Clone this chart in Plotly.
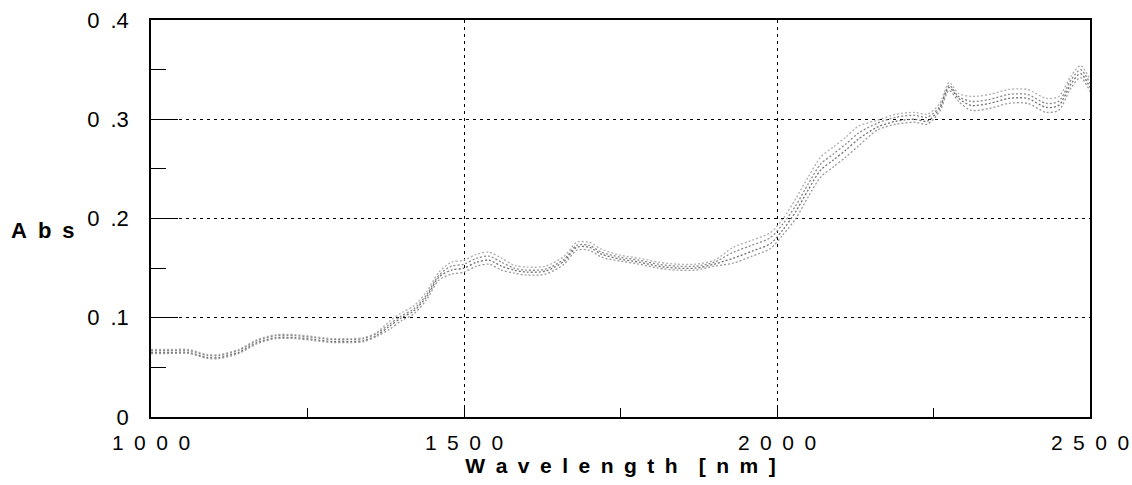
import plotly.graph_objects as go

wavelength = [1000,1030,1060,1090,1110,1140,1170,1200,1230,1260,1290,1320,1340,1360,1380,1400,1420,1440,1460,1480,
              1500,1520,1540,1560,1580,1600,1630,1660,1680,1700,1720,1750,1780,1810,1840,1870,1900,1930,1960,1990,
              2010,2030,2050,2070,2090,2110,2130,2160,2190,2220,2240,2260,2275,2290,2310,2340,2370,2400,2430,2450,
              2470,2485,2500]

abs_a = [0.068,0.068,0.068,0.063,0.063,0.068,0.078,0.083,0.083,0.081,0.079,0.079,0.080,0.085,
         0.096,0.105,0.112,0.126,0.146,
         0.156,0.158,0.164,0.166,0.160,
         0.153,0.151,0.152,
         0.162,0.176,0.176,0.169,
         0.163,0.160,0.156,0.154,0.154,0.158,
         0.171,0.178,0.186,0.200,
         0.220,0.242,0.262,0.272,0.282,0.293,
         0.299,0.305,0.307,0.305,
         0.316,0.337,0.326,
         0.323,0.325,0.330,0.330,0.321,0.323,
         0.344,0.354,0.340]

abs_b = [0.067,0.067,0.067,0.062,0.062,0.067,0.077,0.082,0.082,0.080,0.078,0.078,0.079,0.084,
         0.093,0.102,0.109,0.123,0.143,
         0.152,0.154,0.160,0.162,0.156,
         0.150,0.148,0.149,
         0.159,0.173,0.173,0.166,
         0.161,0.158,0.154,0.152,0.152,0.156,
         0.166,0.173,0.181,0.195,
         0.213,0.235,0.255,0.265,0.275,0.286,
         0.296,0.302,0.304,0.302,
         0.313,0.334,0.323,
         0.318,0.320,0.325,0.325,0.316,0.318,
         0.340,0.350,0.336]

abs_c = [0.065,0.065,0.065,0.060,0.060,0.065,0.075,0.080,0.080,0.078,0.076,0.076,0.077,0.082,
         0.091,0.100,0.107,0.121,0.141,
         0.148,0.150,0.156,0.158,0.152,
         0.148,0.146,0.147,
         0.157,0.171,0.171,0.164,
         0.159,0.156,0.152,0.150,0.150,0.154,
         0.160,0.167,0.175,0.189,
         0.207,0.229,0.249,0.259,0.269,0.280,
         0.292,0.298,0.300,0.298,
         0.311,0.332,0.321,
         0.314,0.316,0.321,0.321,0.312,0.314,
         0.336,0.346,0.332]

abs_d = [0.064,0.064,0.064,0.059,0.059,0.064,0.074,0.079,0.079,0.077,0.075,0.075,0.076,0.081,
         0.088,0.097,0.104,0.118,0.138,
         0.144,0.146,0.152,0.154,0.148,
         0.145,0.143,0.144,
         0.154,0.168,0.168,0.161,
         0.157,0.154,0.150,0.148,0.148,0.152,
         0.155,0.162,0.170,0.184,
         0.200,0.222,0.242,0.252,0.262,0.273,
         0.289,0.295,0.297,0.295,
         0.308,0.329,0.318,
         0.309,0.311,0.316,0.316,0.307,0.309,
         0.332,0.342,0.328]

series = [abs_a, abs_b, abs_c, abs_d]
colors = ["#b0b0b0", "#8a8a8a", "#707070", "#9a9a9a"]

EN = "\u2002"
y_ticks = [0, 0.1, 0.2, 0.3, 0.4]
y_labels = ["0", "0" + EN + ".1", "0" + EN + ".2", "0" + EN + ".3", "0" + EN + ".4"]
x_ticks = [1000, 1500, 2000, 2500]
x_labels = [EN.join(str(v)) for v in x_ticks]
x_title = EN.join("Wavelength") + EN + EN + EN.join("[nm") + EN + "]"
y_title = EN.join("Abs")

fig = go.Figure()
for s, c in zip(series, colors):
    fig.add_trace(go.Scatter(x=wavelength, y=s, mode="lines",
                             line=dict(color=c, width=1.3, dash="2px,2px", shape="spline", smoothing=0.8),
                             showlegend=False, hoverinfo="skip"))

font_family = "Liberation Sans, Arial, sans-serif"
fig.update_layout(
    width=1132, height=485,
    margin=dict(l=151, r=42, t=20, b=68, autoexpand=False),
    paper_bgcolor="white", plot_bgcolor="white",
    font=dict(family=font_family, color="black"),
)
fig.update_xaxes(
    range=[1000, 2500], tickvals=x_ticks, ticktext=x_labels, automargin=False,
    showline=True, linecolor="black", linewidth=1.5, mirror=True,
    showgrid=True, gridcolor="black", gridwidth=1, griddash="3px,4px",
    ticks="inside", ticklen=9, tickcolor="black", tickwidth=1,
    minor=dict(dtick=250, ticks="inside", ticklen=9, tickcolor="black", showgrid=False),
    tickfont=dict(size=21, family=font_family), ticklabelstandoff=6,
    zeroline=False,
    title=dict(text="<b>" + x_title + "</b>", font=dict(size=21, family=font_family), standoff=0),
)
fig.update_yaxes(
    range=[0, 0.4], tickvals=y_ticks, ticktext=y_labels, automargin=False,
    showline=True, linecolor="black", linewidth=1.5, mirror=True,
    showgrid=True, gridcolor="black", gridwidth=1, griddash="3px,4px",
    ticks="inside", ticklen=27, tickcolor="black", tickwidth=1,
    minor=dict(dtick=0.05, ticks="inside", ticklen=15, tickcolor="black", showgrid=False),
    tickfont=dict(size=22, family=font_family), ticklabelstandoff=16,
    zeroline=False,
)
fig.add_annotation(text="<b>" + y_title + "</b>", xref="paper", yref="paper", x=-0.151, y=0.47,
                   xanchor="left", yanchor="middle", showarrow=False,
                   font=dict(size=22, family=font_family, color="black"))

fig.write_html("out.html")
